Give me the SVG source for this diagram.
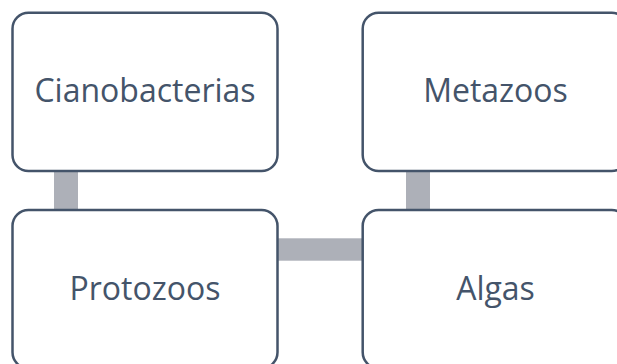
<svg xmlns="http://www.w3.org/2000/svg" width="617" height="364" viewBox="0 0 617 364">
<style>
.box{fill:#fff;stroke:#44546A;stroke-width:2.5}
.lbl{font-family:"Open Sans","Noto Sans",sans-serif;font-size:32px;fill:#44546A;text-anchor:middle}
.bar{fill:#ADB0B8}
</style>
<rect width="617" height="364" fill="#fff"/>
<g id="connectors">
<rect class="bar" x="54" y="170" width="24" height="42"/>
<rect class="bar" x="406" y="170" width="24" height="42"/>
<rect class="bar" x="276" y="238.3" width="88" height="22.4"/>
</g>
<g id="cianobacterias">
<rect class="box" x="12.5" y="12.7" width="265" height="158.3" rx="16"/>
<text class="lbl" x="145" y="102">Cianobacterias</text>
</g>
<g id="metazoos">
<rect class="box" x="362.7" y="12.7" width="265" height="158.3" rx="16"/>
<text class="lbl" x="495.5" y="102">Metazoos</text>
</g>
<g id="protozoos">
<rect class="box" x="12.5" y="210" width="265" height="158.3" rx="16"/>
<text class="lbl" x="145" y="299.5">Protozoos</text>
</g>
<g id="algas">
<rect class="box" x="362.7" y="210" width="265" height="158.3" rx="16"/>
<text class="lbl" x="495.5" y="299.5">Algas</text>
</g>
</svg>
